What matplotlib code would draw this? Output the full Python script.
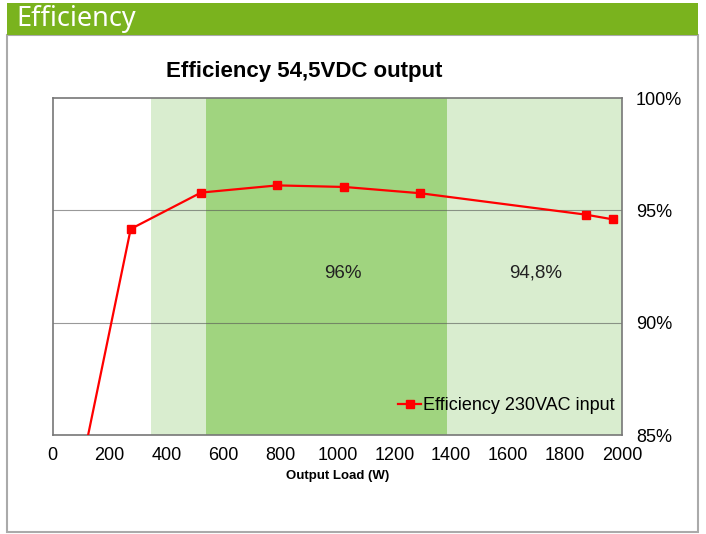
import matplotlib.pyplot as plt
from matplotlib.patches import Rectangle

# data
load = [100, 274, 521, 789, 1025, 1292, 1872, 1967]
eff = [83.5, 94.17, 95.79, 96.11, 96.04, 95.76, 94.81, 94.6]

band_edges = [345, 539, 1386, 2000]
band_colors = ['#d9edcf', '#a0d47f', '#d9edcf']
band_labels = ['', '96%', '94,8%']
band_label_x = [0, 1020, 1697]

xticks = [0, 200, 400, 600, 800, 1000, 1200, 1400, 1600, 1800, 2000]
yticks = [85, 90, 95, 100]

plt.rcParams['font.family'] = ['Liberation Sans', 'DejaVu Sans']

fig = plt.figure(figsize=(7.06, 5.34), dpi=100)

# header bar and frame
fig.patches.append(Rectangle((7 / 706, 1 - 532 / 534), 691 / 706, 497 / 534,
                             transform=fig.transFigure, fill=False,
                             edgecolor='#aaaaaa', linewidth=1.5))
fig.patches.append(Rectangle((7 / 706, 1 - 35 / 534), 691 / 706, 32 / 534,
                             transform=fig.transFigure, facecolor='#7ab31e',
                             edgecolor='none'))
fig.text(16 / 706, 1 - 19 / 534, 'Efficiency', color='white', fontsize=19.5,
         family='Noto Sans', va='center', ha='left')

ax = fig.add_axes([52.7 / 706, 1 - 435 / 534, (622 - 52.7) / 706, (435 - 98) / 534])

for i in range(3):
    ax.axvspan(band_edges[i], band_edges[i + 1], color=band_colors[i], lw=0, zorder=0)
    if band_labels[i]:
        ax.text(band_label_x[i], 92.2, band_labels[i], fontsize=13.5,
                ha='center', va='center', color='#222222')

for y in [90, 95]:
    ax.axhline(y, color='#555555', lw=0.8, alpha=0.6, zorder=1)

ax.plot(load, eff, color='#ff0000', lw=1.6, marker='s', markersize=6,
        label='Efficiency 230VAC input', zorder=3)

ax.set_xlim(0, 2000)
ax.set_ylim(85, 100)
ax.set_xticks(xticks)
ax.set_yticks(yticks)
ax.set_yticklabels([f'{v}%' for v in yticks])
ax.yaxis.tick_right()
ax.tick_params(length=0, labelsize=13)
ax.tick_params(axis='x', pad=9)
ax.tick_params(axis='y', pad=10)
for s in ax.spines.values():
    s.set_color('#777777')
    s.set_linewidth(1.2)

ax.set_xlabel('Output Load (W)', fontsize=9.5, fontweight='bold', labelpad=4)
fig.text(304 / 706, 1 - 71 / 534, 'Efficiency 54,5VDC output', fontsize=16,
         fontweight='bold', ha='center', va='center')

ax.legend(loc='lower right', frameon=False, fontsize=13, handlelength=1.3,
          handletextpad=0.1, borderaxespad=0.0, bbox_to_anchor=(1.0, 0.04))

fig.savefig('out.png', dpi=100)
